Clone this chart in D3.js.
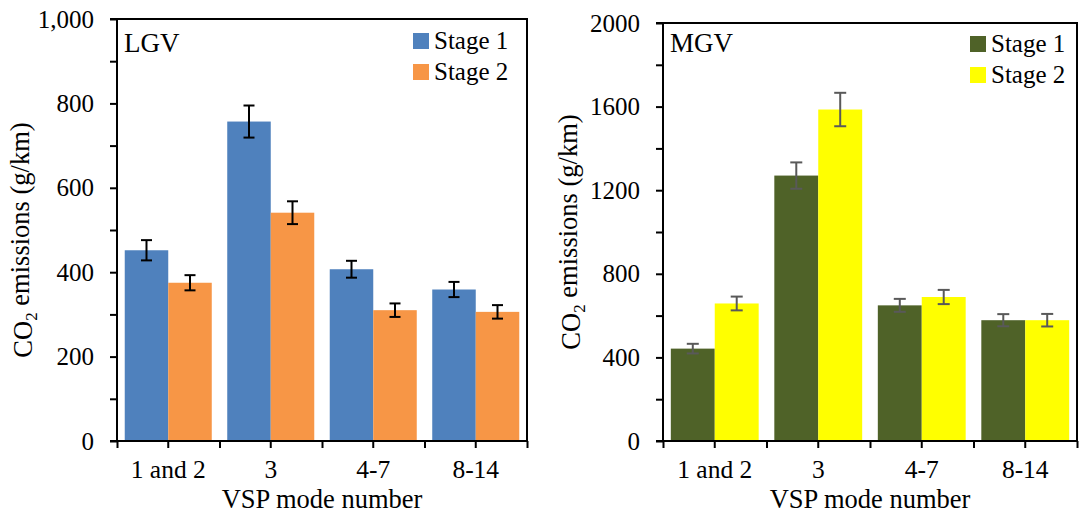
<!DOCTYPE html>
<html>
<head>
<meta charset="utf-8">
<script src="https://cdn.jsdelivr.net/npm/d3@7"></script>
<style>
    body { margin: 0; background: #fff; }
    svg { display: block; }
    svg text { font-family: "Liberation Serif", serif; }
</style>
</head>
<body>
<svg id="chart" width="1085" height="518"></svg>
<script>
// ---- data ----
const categories = ["1 and 2", "3", "4-7", "8-14"];
const seriesNames = ["Stage 1", "Stage 2"];

const lgvStage1 = [452, 757, 407, 359];
const lgvStage2 = [375, 541, 310, 306];
const lgvErr1 = [24, 38, 20, 18];
const lgvErr2 = [18, 27, 16, 16];

const mgvStage1 = [442, 1270, 649, 578];
const mgvStage2 = [658, 1586, 689, 578];
const mgvErr1 = [23, 63, 31, 29];
const mgvErr2 = [33, 80, 34, 30];

const lgvTicks = [0, 200, 400, 600, 800, 1000];
const mgvTicks = [0, 400, 800, 1200, 1600, 2000];

const svg = d3.select('#chart');

// Build one grouped-bar panel
const drawPanel = (p) => {
    const x0 = d3.scaleBand()
        .domain(categories)
        .range([p.left, p.right])
        .padding(0);
    const x1 = d3.scaleBand()
        .domain(seriesNames)
        .range([0, x0.bandwidth()])
        .paddingInner(0)
        .paddingOuter(0.178);
    const y = d3.scaleLinear()
        .domain([0, p.ticks[p.ticks.length - 1]])
        .range([p.bottom, p.top]);

    const g = svg.append("g").attr("fill", "#000");

    // bars
    const rows = categories.map((c, i) => ({
        cat: c,
        vals: [
            { s: seriesNames[0], v: p.s1[i], e: p.e1[i] },
            { s: seriesNames[1], v: p.s2[i], e: p.e2[i] }
        ]
    }));

    const grp = g.append("g")
        .selectAll("g")
        .data(rows)
        .join("g")
        .attr("transform", d => `translate(${x0(d.cat)},0)`);

    grp.selectAll("rect")
        .data(d => d.vals)
        .join("rect")
        .attr("x", d => x1(d.s))
        .attr("y", d => y(d.v))
        .attr("width", x1.bandwidth())
        .attr("height", d => y(0) - y(d.v))
        .attr("fill", (d, i) => p.colors[i]);

    // error bars
    const eb = grp.selectAll("g.err")
        .data(d => d.vals)
        .join("g")
        .attr("class", "err")
        .attr("stroke", p.errColor)
        .attr("stroke-width", 2);
    const cx = d => x1(d.s) + x1.bandwidth() / 2;
    eb.append("line")
        .attr("x1", cx).attr("x2", cx)
        .attr("y1", d => y(d.v + d.e))
        .attr("y2", d => y(d.v - d.e));
    eb.append("line")
        .attr("x1", d => cx(d) - p.cap).attr("x2", d => cx(d) + p.cap)
        .attr("y1", d => y(d.v + d.e)).attr("y2", d => y(d.v + d.e));
    eb.append("line")
        .attr("x1", d => cx(d) - p.cap).attr("x2", d => cx(d) + p.cap)
        .attr("y1", d => y(d.v - d.e)).attr("y2", d => y(d.v - d.e));

    // frame (top and right)
    g.append("path")
        .attr("fill", "none")
        .attr("stroke", "#000")
        .attr("stroke-width", 2)
        .attr("d", `M${p.left},${p.top}H${p.right}V${p.bottom}`);

    // y axis, minor ticks between majors
    const step = p.ticks[1] - p.ticks[0];
    const allTicks = d3.range(0, p.ticks[p.ticks.length - 1] + 1, step / 2);
    const yAxis = g.append("g")
        .attr("transform", `translate(${p.left},0)`)
        .call(d3.axisLeft(y)
            .tickValues(allTicks)
            .tickSize(7)
            .tickPadding(16)
            .tickFormat(d => p.ticks.includes(d) ? p.fmt(d) : ""));
    yAxis.select(".domain").attr("stroke-width", 2).attr("d", `M-7,${p.top}H0V${p.bottom}H-7`);
    yAxis.selectAll(".tick line").attr("stroke-width", 2);
    yAxis.selectAll("text").style("font-size", "25px").attr("fill", "#000");

    // x axis: ticks at centres (with labels) and at boundaries
    const xAxis = g.append("g")
        .attr("transform", `translate(0,${p.bottom})`)
        .call(d3.axisBottom(x0).tickSize(7).tickPadding(12).tickSizeOuter(0));
    xAxis.select(".domain").attr("stroke-width", 2).attr("d", `M${p.left},0H${p.right}`);
    xAxis.selectAll(".tick line").attr("stroke-width", 2);
    xAxis.selectAll("text").style("font-size", "25.5px").attr("fill", "#000");

    const xb = d3.scaleLinear().domain([0, categories.length]).range([p.left, p.right]);
    g.append("g")
        .attr("transform", `translate(0,${p.bottom})`)
        .call(d3.axisBottom(xb).ticks(categories.length).tickSize(7).tickFormat(""))
        .call(a => a.select(".domain").remove())
        .selectAll(".tick line").attr("stroke-width", 2);

    // axis titles
    const yt = g.append("text")
        .attr("transform", `translate(${p.yTitleX},${p.yTitleY}) rotate(-90)`)
        .attr("text-anchor", "middle")
        .style("font-size", "26.5px");
    yt.append("tspan").text("CO");
    yt.append("tspan").text("2").attr("dy", "0.3em").style("font-size", "17px");
    yt.append("tspan").text(" emissions (g/km)").attr("dy", "-0.3em");

    g.append("text")
        .attr("x", (p.left + p.right) / 2)
        .attr("y", 508)
        .attr("text-anchor", "middle")
        .style("font-size", "26.5px")
        .text("VSP mode number");

    // panel label
    g.append("text")
        .attr("x", p.left + 7)
        .attr("y", 52)
        .style("font-size", "27px")
        .text(p.label);

    // legend
    const lg = g.append("g")
        .selectAll("g")
        .data(seriesNames)
        .join("g")
        .attr("transform", (d, i) => `translate(${p.legX},${p.legY + i * 31})`);
    lg.append("rect")
        .attr("x", 0).attr("y", -16)
        .attr("width", 16).attr("height", 16)
        .attr("fill", (d, i) => p.colors[i]);
    lg.append("text")
        .attr("x", 21)
        .attr("y", 0)
        .style("font-size", "25px")
        .text(d => d);
};

drawPanel({
    left: 117, right: 527, top: 19, bottom: 441,
    ticks: lgvTicks, fmt: d3.format(","),
    s1: lgvStage1, s2: lgvStage2, e1: lgvErr1, e2: lgvErr2,
    colors: ["#4f81bd", "#f79646"], errColor: "#000", cap: 5.5,
    label: "LGV", legX: 413, legY: 49,
    yTitleX: 32, yTitleY: 240
});

drawPanel({
    left: 663, right: 1077, top: 23, bottom: 441,
    ticks: mgvTicks, fmt: d3.format("d"),
    s1: mgvStage1, s2: mgvStage2, e1: mgvErr1, e2: mgvErr2,
    colors: ["#4f6228", "#ffff00"], errColor: "#595959", cap: 6,
    label: "MGV", legX: 970, legY: 52,
    yTitleX: 580, yTitleY: 232
});
</script>
</body>
</html>
